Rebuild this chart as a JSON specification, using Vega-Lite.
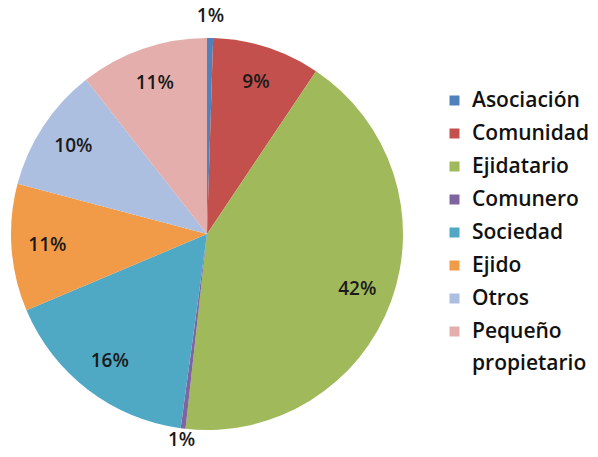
{
  "$schema": "https://vega.github.io/schema/vega-lite/v6.json",
  "autosize": "none",
  "width": 414,
  "height": 446,
  "padding": {"left": 0, "top": 11, "right": 184, "bottom": 0},
  "background": "white",
  "config": {"view": {"stroke": null}},
  "data": {
    "values": [
      {"idx": 1, "tenure": "Asociación", "pct": 0.5, "label": "1%"},
      {"idx": 2, "tenure": "Comunidad", "pct": 8.9, "label": "9%"},
      {"idx": 3, "tenure": "Ejidatario", "pct": 42.4, "label": "42%"},
      {"idx": 4, "tenure": "Comunero", "pct": 0.4, "label": "1%"},
      {"idx": 5, "tenure": "Sociedad", "pct": 16.5, "label": "16%"},
      {"idx": 6, "tenure": "Ejido", "pct": 10.5, "label": "11%"},
      {"idx": 7, "tenure": "Otros", "pct": 10.3, "label": "10%"},
      {"idx": 8, "tenure": "Pequeño propietario", "pct": 10.6, "label": "11%"}
    ]
  },
  "encoding": {
    "theta": {"field": "pct", "type": "quantitative", "stack": true},
    "order": {"field": "idx", "type": "quantitative"}
  },
  "layer": [
    {
      "mark": {"type": "arc", "outerRadius": 196},
      "encoding": {
        "color": {
          "field": "tenure",
          "type": "nominal",
          "sort": null,
          "scale": {
            "domain": ["Asociación", "Comunidad", "Ejidatario", "Comunero", "Sociedad", "Ejido", "Otros", "Pequeño propietario"],
            "range": ["#4F81BD", "#C4504D", "#A0B95A", "#8064A2", "#4FA8C4", "#F19A48", "#ADBFE0", "#E3AEAC"]
          },
          "legend": {
            "orient": "none",
            "legendX": 444,
            "legendY": 79,
            "title": null,
            "padding": 0,
            "symbolType": "square",
            "symbolSize": 100,
            "symbolStrokeWidth": 0,
            "labelFont": "Open Sans",
            "labelFontSize": 21,
            "labelFontWeight": 600,
            "labelColor": "#111111",
            "labelOffset": 7,
            "labelLimit": 300,
            "rowPadding": 11,
            "labelExpr": "datum.label == 'Pequeño propietario' ? ['Pequeño', 'propietario'] : datum.label",
            "encode": {"labels": {"update": {"lineHeight": {"value": 32}}}}
          }
        }
      }
    },
    {
      "mark": {"type": "text", "font": "Open Sans", "fontSize": 19, "fontWeight": 600, "radius": 160},
      "encoding": {
        "detail": {"field": "tenure", "type": "nominal"},
        "color": {"value": "#1a1a1a"},
        "text": {"condition": {"test": "datum.pct >= 1", "field": "label"}, "value": ""}
      }
    },
    {
      "mark": {"type": "text", "font": "Open Sans", "fontSize": 19, "fontWeight": 600, "radius": 218},
      "encoding": {
        "detail": {"field": "tenure", "type": "nominal"},
        "color": {"value": "#1a1a1a"},
        "text": {"condition": {"test": "datum.tenure == 'Asociación'", "field": "label"}, "value": ""}
      }
    },
    {
      "mark": {"type": "text", "font": "Open Sans", "fontSize": 19, "fontWeight": 600, "radius": 208},
      "encoding": {
        "detail": {"field": "tenure", "type": "nominal"},
        "color": {"value": "#1a1a1a"},
        "text": {"condition": {"test": "datum.tenure == 'Comunero'", "field": "label"}, "value": ""}
      }
    }
  ]
}
